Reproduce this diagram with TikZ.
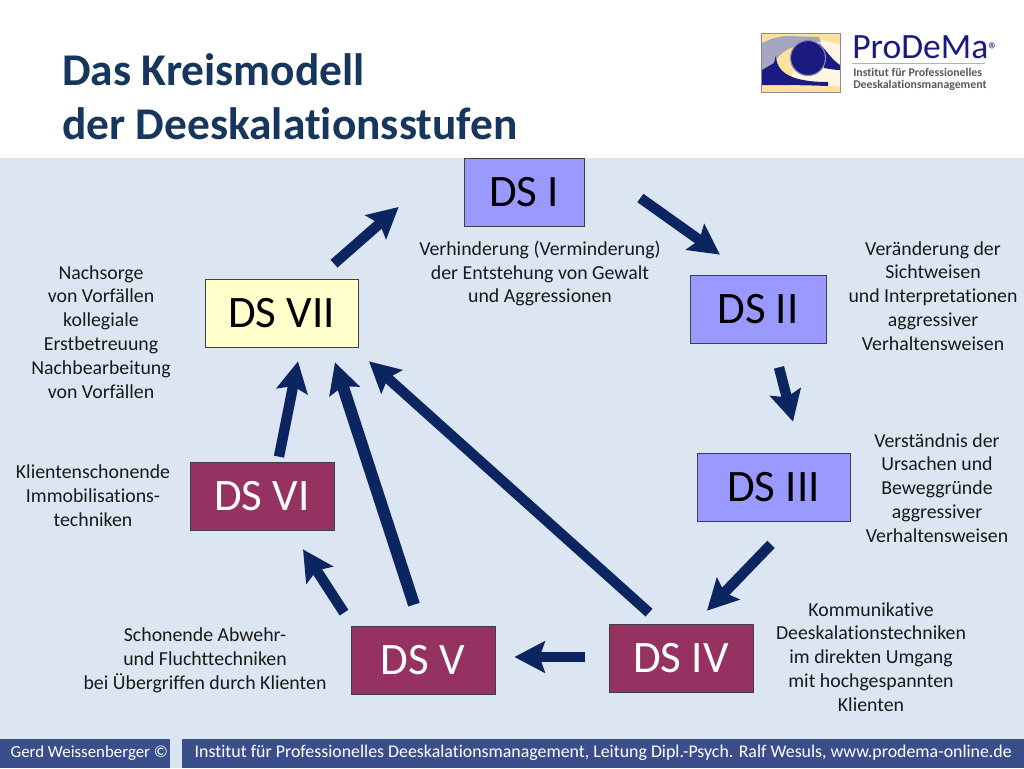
\documentclass[tikz,border=0pt]{standalone}
\usepackage{fontspec}
\setmainfont{Carlito}[Ligatures=CommonOff]
\usetikzlibrary{arrows.meta,calc}
\definecolor{panelblue}{HTML}{DCE6F2}
\definecolor{footblue}{HTML}{3B4E8C}
\definecolor{navy}{HTML}{0B2560}
\definecolor{titleblue}{HTML}{17365D}
\definecolor{lilac}{HTML}{9999FF}
\definecolor{wine}{HTML}{953262}
\definecolor{paleyellow}{HTML}{FFFFCC}
\definecolor{logonavy}{HTML}{1A1A80}
\begin{document}
\begin{tikzpicture}[x=.25mm,y=-.25mm,
  ds/.style={draw=black!75,line width=.5pt,minimum height=17mm,inner sep=0pt,
             font=\fontsize{32}{36}\selectfont},
  dsblue/.style={ds,fill=lilac},
  dswine/.style={ds,fill=wine,text=white},
  arr/.style={-{Stealth[length=7.6mm,width=7.8mm,inset=1.3mm]},draw=navy,line width=2.6mm},
  note/.style={align=center,inner sep=0pt,text=black!90,font=\fontsize{14.1}{17}\selectfont},
  foot/.style={fill=footblue,minimum height=7.25mm,inner sep=0pt,text=white,
               font=\fontsize{12.7}{15}\selectfont}]
\useasboundingbox (0,0) rectangle (1024,768);
\fill[white] (0,0) rectangle (1024,158);
\fill[panelblue] (0,158) rectangle (1024,768);

% Heading and logo
\node[anchor=west,align=left,inner sep=0pt,text=titleblue,
      font=\bfseries\fontsize{32.3}{38.4}\selectfont] (title) at (62,97)
  {Das Kreismodell\\der Deeskalationsstufen};
\fill[yellow!40!orange!35!white] (762,34) rectangle (840,92);
\fill[white,opacity=.7] (800,36) -- (840,44) -- (840,86) -- (790,86) -- cycle;
\fill[blue!30!black!35!white] (762,43) .. controls (772,38) and (780,36) .. (789,36)
  -- (819,37) -- (821,42) .. controls (800,43) and (782,48) .. (774,63) -- (762,70) -- cycle;
\fill[logonavy] (762,70) -- (774,63) -- (776,55) .. controls (776,72) and (790,82) .. (828,82)
  -- (828,86) .. controls (800,85) and (780,85) .. (762,85) -- cycle;
\fill[logonavy] (819,43) .. controls (826,50) and (832,60) .. (840,65) -- (840,70)
  .. controls (835,70) and (830,69) .. (824,68) -- cycle;
\fill[logonavy,draw=blue!25!gray!75,line width=.8pt] (808,58) circle (17.5);
\draw[black!45,line width=.5pt] (761.5,33.5) rectangle (840.5,92.5);
\node[anchor=west,inner sep=0pt,text=logonavy,font=\fontsize{25.3}{28}\selectfont] (logoname) at (852,47)
  {ProDeMa\raisebox{.4mm}{\fontsize{14}{14}\selectfont ®}};
\node[anchor=west,align=left,inner sep=0pt,text=black!65,
      font=\bfseries\fontsize{8.4}{8.4}\selectfont] (logotext) at (853,79.5)
  {Institut für Professionelles\\Deeskalationsmanagement};
\draw[black!30,line width=.4pt] (852,63.5) -- (985,63.5);

% Stages
\node[dsblue,minimum width=30mm] (dsI) at (524,192) {DS I};
\node[dsblue,minimum width=34mm] (dsII) at (758,309) {\raisebox{-.4mm}{DS II}};
\node[dsblue,minimum width=38.25mm] (dsIII) at (773.5,487) {DS III};
\node[dswine,minimum width=36mm] (dsIV) at (681,658) {DS IV};
\node[dswine,minimum width=36mm] (dsV) at (423,660) {DS V};
\node[dswine,minimum width=36mm] (dsVI) at (262,496) {DS VI};
\node[ds,fill=paleyellow,minimum width=38.25mm] (dsVII) at (281.5,313) {DS VII};

% Arrows stop short of the boxes, so each end is an offset from its box
\draw[arr] ($(dsI.east)+(56,6)$) -- ($(dsII.north)+(-38,-20)$);
\draw[arr] ($(dsII.south)+(21,24)$) -- ($(dsIII.north)+(19.5,-31)$);
\draw[arr] ($(dsIII.south)+(-2.5,23)$) -- ($(dsIV.north)+(26,-13)$);
\draw[arr] ($(dsIV.west)+(-24,-1)$) -- ($(dsV.east)+(19,-3)$);
\draw[arr] ($(dsV.north)+(-79,-13)$) -- ($(dsVI.south)+(41,19)$);
\draw[arr,line width=3mm] ($(dsV.north)+(-9,-21)$) -- ($(dsVII.south)+(53.5,15)$);
\draw[arr] ($(dsIV.north)+(-32,-11)$) -- ($(dsVII.south)+(87.5,14)$);
\draw[arr] ($(dsVI.north)+(17,-5)$) -- ($(dsVII.south)+(16.5,14)$);
\draw[arr] ($(dsVII.north)+(52.5,-15)$) -- ($(dsI.west)+(-65,15)$);

% Descriptions
\node[note] (noteI) at (540,273.5) {Verhinderung (Verminderung)\\der Entstehung von Gewalt\\und Aggressionen};
\node[note] (noteII) at (933,296) {Veränderung der\\Sichtweisen\\und Interpretationen\\aggressiver\\Verhaltensweisen};
\node[note] (noteIII) at (937,488) {Verständnis der\\Ursachen und\\Beweggründe\\aggressiver\\Verhaltensweisen};
\node[note] (noteIV) at (871,657) {Kommunikative\\Deeskalationstechniken\\im direkten Umgang\\mit hochgespannten\\Klienten};
\node[note] (noteV) at (205,660) {Schonende Abwehr-\\und Fluchttechniken\\bei Übergriffen durch Klienten};
\node[note] (noteVI) at (93,496) {Klientenschonende\\Immobilisations-\\techniken};
\node[note] (noteVII) at (101,332) {Nachsorge\\von Vorfällen\\kollegiale\\Erstbetreuung\\Nachbearbeitung\\von Vorfällen};

% Footer
\node[foot,anchor=south west,minimum width=42.5mm,font=\fontsize{12}{15}\selectfont] (footL) at (0,768)
  {\hspace{2mm}\raisebox{-.4mm}{Gerd Weissenberger ©}};
\node[foot,anchor=south west,minimum width=210.5mm] (footR) at (182,768)
  {\raisebox{-.4mm}{Institut für Professionelles Deeskalationsmanagement, Leitung Dipl.-Psych. Ralf Wesuls, www.prodema-online.de}};
\end{tikzpicture}
\end{document}
